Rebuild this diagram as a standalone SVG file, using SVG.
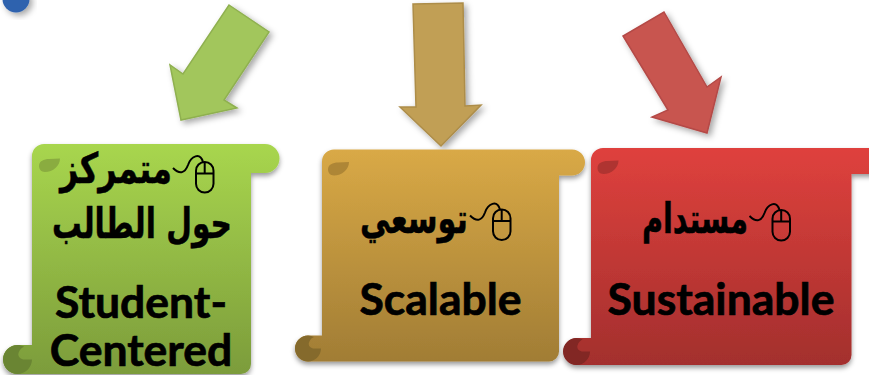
<svg xmlns="http://www.w3.org/2000/svg" width="869" height="375" viewBox="0 0 869 375">
<defs>
<linearGradient id="gGreen" x1="0" y1="0" x2="0" y2="1"><stop offset="0" stop-color="#A8D64E"/><stop offset="1" stop-color="#7C9C3B"/></linearGradient>
<linearGradient id="gGold" x1="0" y1="0" x2="0" y2="1"><stop offset="0" stop-color="#D9A946"/><stop offset="1" stop-color="#A17D35"/></linearGradient>
<linearGradient id="gRed" x1="0" y1="0" x2="0" y2="1"><stop offset="0" stop-color="#DF413D"/><stop offset="1" stop-color="#A32F2D"/></linearGradient>
<filter id="sh" x="-15%" y="-15%" width="130%" height="130%"><feDropShadow dx="0" dy="3" stdDeviation="2.5" flood-color="#000" flood-opacity="0.4"/></filter>
<filter id="ash" x="-25%" y="-25%" width="150%" height="150%"><feDropShadow dx="3" dy="3" stdDeviation="3" flood-color="#000" flood-opacity="0.35"/></filter>
<path id="leaf" d="M0,7 C0,2 5,0 10,0 L21,-0.5 C21,7 14,13 6,13 C2,13 0,10 0,7Z"/>
<path id="curl" d="M13,0 C6,0 0,6 0,13 C0,20 6,26 13,26 C20,26 26,20 26,13 L18,13 C15,12 13,10 14,7 C15,4 17,2 19,1.500 C17,0.500 15,0 13,0Z"/>
<g id="mouse" fill="none" stroke="#000" stroke-width="2">
<rect x="0" y="0" width="17.500" height="30.500" rx="8.700"/>
<path d="M0,11.500 H17.500 M8.700,0 V11.500"/>
<path d="M-23,6 C-16,13 -11,11 -8,3 C-5,-6 4,-10 7,0"/>
</g>
</defs>
<style>
.ar{font-family:"DejaVu Sans",sans-serif;font-weight:700;font-size:42px;fill:#000;stroke:#000;stroke-width:.5px;direction:rtl;text-anchor:start}
.en{font-family:Lato,"Open Sans",sans-serif;font-weight:700;font-size:44.500px;fill:#000;stroke:#000;stroke-width:.7px;text-anchor:middle}
.arrow{stroke-width:1.500;stroke-linejoin:miter;filter:url(#ash)}
</style>
<circle id="dot" cx="16" cy="-1" r="13.500" fill="#2E62AE" filter="url(#ash)"/>
<g id="connectors">
<path class="arrow" d="M229,5 L269,32 L224,100 L237,108 L181,120 L170,65 L183,74Z" fill="#A2C65B" stroke="#8FB050"/>
<path class="arrow" d="M413,4 L463,3 L465,106 L481,105 L441,146 L400,107 L416,107Z" fill="#C19F55" stroke="#AD8D49"/>
<path class="arrow" d="M664,12 L707,87 L721,77 L707,133 L652,117 L668,110 L623,36Z" fill="#C85450" stroke="#B44A46"/>
</g>
<g id="node-green">
<path fill="url(#gGreen)" filter="url(#sh)" d="M44,144 H265 A14.500,14.500 0 0 1 265,173 H251 V364 A10,10 0 0 1 241,374 H17.500 A14.500,14.500 0 0 1 17.500,345 H32 V156 A12,12 0 0 1 44,144Z"/>
<use href="#leaf" x="39" y="159" fill="#8AAC40"/>
<use href="#curl" transform="translate(3,345) scale(1.115)" fill="#6A8533"/>
<use href="#mouse" x="196" y="162"/>
<text class="ar" x="172" y="183" textLength="112" lengthAdjust="spacingAndGlyphs">متمركز</text>
<text class="ar" x="232" y="238" textLength="180" lengthAdjust="spacingAndGlyphs">حول الطالب</text>
<text class="en" x="141" y="318">Student-</text>
<text class="en" x="141" y="366">Centered</text>
</g>
<g id="node-gold">
<path fill="url(#gGold)" filter="url(#sh)" d="M334,149.500 H572 A13,13 0 0 1 572,175.500 H559 V351.500 A10,10 0 0 1 549,361.500 H308 A13,13 0 0 1 308,335.500 H322 V161.500 A12,12 0 0 1 334,149.500Z"/>
<use href="#leaf" x="328" y="162.500" fill="#AE8636"/>
<use href="#curl" x="295" y="335.500" fill="#856A2C"/>
<use href="#mouse" x="493" y="209.500"/>
<text class="ar" x="468" y="233" textLength="108" lengthAdjust="spacingAndGlyphs">توسعي</text>
<text class="en" x="440.500" y="315">Scalable</text>
</g>
<g id="node-red">
<path fill="url(#gRed)" filter="url(#sh)" d="M603,148 H880 V174 H851.500 V355 A10,10 0 0 1 841.500,365 H577 A13.500,13.500 0 0 1 577,338 H591 V160 A12,12 0 0 1 603,148Z"/>
<use href="#leaf" x="597.500" y="161" fill="#AF3431"/>
<use href="#curl" transform="translate(563,338) scale(1.040)" fill="#822724"/>
<use href="#mouse" x="772.500" y="210"/>
<text class="ar" x="748" y="233" textLength="106" lengthAdjust="spacingAndGlyphs">مستدام</text>
<text class="en" x="721" y="315">Sustainable</text>
</g>
</svg>
